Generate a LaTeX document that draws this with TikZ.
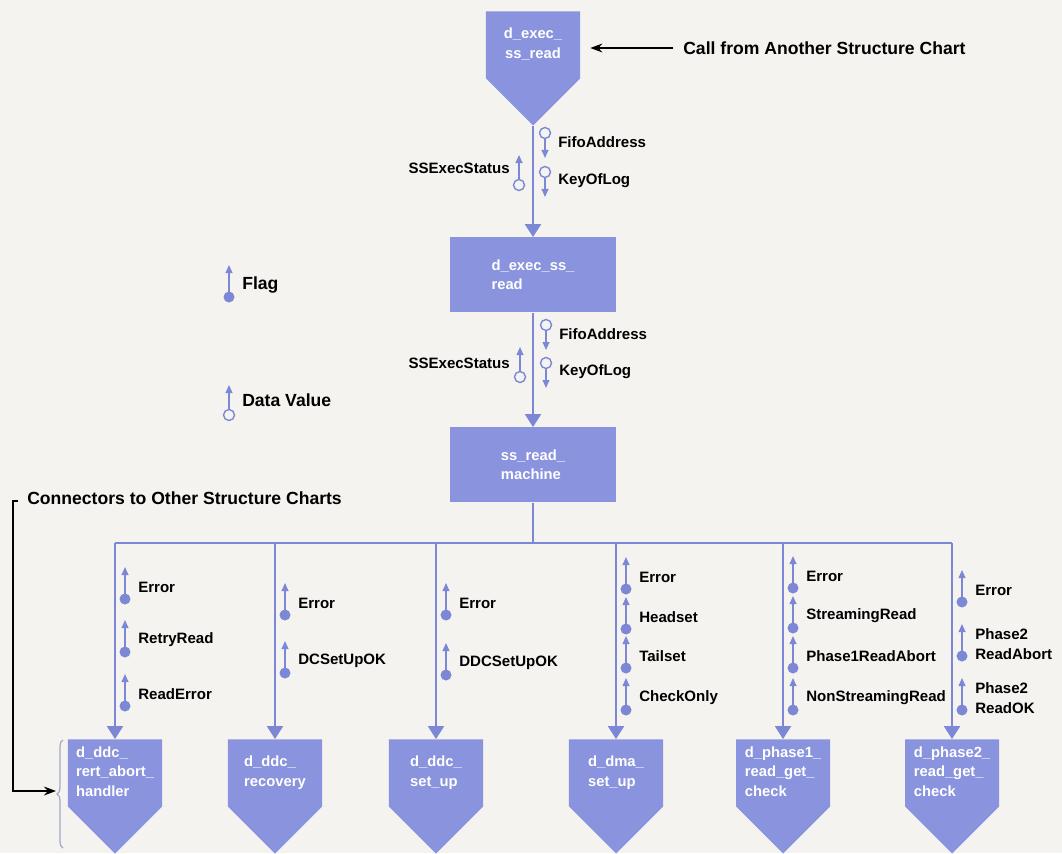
\documentclass[tikz,border=0pt]{standalone}
\usepackage{fontspec}
\setmainfont{Liberation Sans}
\usepackage{tikz}
\usetikzlibrary{shapes.symbols, arrows.meta, positioning, decorations.pathreplacing}
\definecolor{chartblue}{RGB}{137,147,222}
\definecolor{chartline}{RGB}{124,136,214}
\definecolor{paper}{RGB}{244,243,239}
\definecolor{bracegray}{RGB}{165,170,200}
% module text: a block of fixed width, lines left (or centre) aligned
\newcommand{\modlines}[2][l]{\makebox[2.2cm]{\begin{tabular}{@{}#1@{}}#2\end{tabular}}}

\begin{document}
\begin{tikzpicture}[
    x=0.025cm, y=0.025cm,
    module/.style={signal, signal to=south, signal pointer angle=90, fill=chartblue, text=white, minimum width=2.35cm, minimum height=2.85cm, inner sep=2pt, font=\fontsize{10.5pt}{14pt}\selectfont\bfseries},
    box/.style={rectangle, fill=chartblue, text=white, minimum width=4.125cm, minimum height=1.875cm, align=left, font=\fontsize{10.5pt}{14pt}\selectfont\bfseries},
    clabel/.style={anchor=west, inner sep=0pt, align=left, font=\fontsize{10.7pt}{14.5pt}\selectfont\bfseries},
    note/.style={anchor=west, inner sep=0pt, font=\fontsize{12.5pt}{15pt}\selectfont\bfseries},
    link/.style={draw=chartline, line width=1.3pt},
    flow/.style={link, -{Triangle[width=0.4cm, length=0.32cm]}},
    couple/.style={draw=chartline, line width=1pt, -{Triangle[width=0.17cm, length=0.2cm]}},
    blackarrow/.style={draw=black, line width=1.3pt, -{Stealth[length=0.3cm, width=0.22cm]}},
    flag/.pic={
        \fill[chartline] (0,0) circle (5.5);
        \draw[couple] (0,0) -- (0,32);
        \node[clabel] at (13,12) {#1};
    },
    datadown/.pic={
        \draw[couple] (0,-5.5) -- (0,-25);
        \draw[chartline, line width=1pt, fill=paper] (0,0) circle (5.5);
        \node[clabel] at (13,-9) {#1};
    },
    dataup/.pic={
        \draw[couple] (0,5.5) -- (0,30);
        \draw[chartline, line width=1pt, fill=paper] (0,0) circle (5.5);
    },
]

\useasboundingbox (0,0) rectangle (1062,-853);
\fill[paper] (0,0) rectangle (1062,-853);

% Called module
\node[module, anchor=north] (exec) at (533,-11) {\modlines[c]{d\_exec\_\\ss\_read}};
\node[note] (call) at (683,-48) {Call from Another Structure Chart};
\draw[blackarrow, shorten <=0.25cm, shorten >=0.25cm] (call.west) -- (call.west -| exec.east);

% Chain
\node[box, anchor=north] (execread) at (533,-237) {d\_exec\_ss\_\\read};
\node[box, anchor=north] (machine) at (533,-427) {ss\_read\_\\machine};

% Couples exec -> execread
\pic at (545,-133) {datadown=FifoAddress};
\pic at (545,-172) {datadown=KeyOfLog};
\pic at (519,-185) {dataup};
\node[clabel, anchor=east] (statusa) at (510,-168) {SSExecStatus};

% Couples execread -> machine
\pic at (546,-325) {datadown=FifoAddress};
\pic at (546,-363) {datadown=KeyOfLog};
\pic at (520,-377) {dataup};
\node[clabel, anchor=east] (statusb) at (510,-363) {SSExecStatus};

% Legend
\pic[clabel/.append style={font=\fontsize{12.5pt}{15pt}\selectfont\bfseries}] at (229,-297) {flag=Flag};
\pic at (229,-415) {dataup};
\node[note] (datakey) at (242,-400) {Data Value};

% Called modules
\node[module, anchor=north] (rert) at (115,-739) {\modlines{d\_ddc\_\\rert\_abort\_\\handler}};
\node[module, anchor=north] (recovery) at (275,-739) {\modlines{d\_ddc\_\\recovery}};
\node[module, anchor=north] (setup) at (436,-739) {\modlines{d\_ddc\_\\set\_up}};
\node[module, anchor=north] (dma) at (616,-739) {\modlines{d\_dma\_\\set\_up}};
\node[module, anchor=north] (phaseone) at (783,-739) {\modlines{d\_phase1\_\\read\_get\_\\check}};
\node[module, anchor=north] (phasetwo) at (952,-739) {\modlines{d\_phase2\_\\read\_get\_\\check}};

% Flags
\pic at (125,-599) {flag=Error};
\pic at (125,-652) {flag=RetryRead};
\pic at (125,-706) {flag=ReadError};
\pic at (285,-615) {flag=Error};
\pic at (285,-673) {flag=DCSetUpOK};
\pic at (446,-615) {flag=Error};
\pic at (446,-675) {flag=DDCSetUpOK};
\pic at (626,-589) {flag=Error};
\pic at (626,-629) {flag=Headset};
\pic at (626,-668) {flag=Tailset};
\pic at (626,-710) {flag=CheckOnly};
\pic at (793,-588) {flag=Error};
\pic at (793,-628) {flag=StreamingRead};
\pic at (793,-668) {flag=Phase1ReadAbort};
\pic at (793,-710) {flag=NonStreamingRead};
\pic at (962,-602) {flag=Error};
\pic at (962,-656) {flag={Phase2\\ReadAbort}};
\pic at (962,-710) {flag={Phase2\\ReadOK}};

% Connectors
\node[note] (conn) at (27,-498) {Connectors to Other Structure Charts};
\draw[decorate, decoration={brace, amplitude=0.15cm}, bracegray, line width=0.9pt] (63,-848) -- (63,-740);
\coordinate (bracetip) at (56,-791);
\draw[blackarrow] ([xshift=-0.225cm, yshift=-0.075cm]conn.west) -- ++(-5,0) |- (bracetip);

% Arrows
\draw[flow] (exec.south) -- (execread.north);
\draw[flow] (execread) -- (machine);
\draw[link] (machine.south) -- ++(0,-40) coordinate (bus);
\draw[link] (bus -| rert) -- (bus -| phasetwo);
\draw[flow] (bus -| rert) -- (rert.north);
\draw[flow] (bus -| recovery) -- (recovery.north);
\draw[flow] (bus -| setup) -- (setup.north);
\draw[flow] (bus -| dma) -- (dma.north);
\draw[flow] (bus -| phaseone) -- (phaseone.north);
\draw[flow] (bus -| phasetwo) -- (phasetwo.north);

\end{tikzpicture}
\end{document}
